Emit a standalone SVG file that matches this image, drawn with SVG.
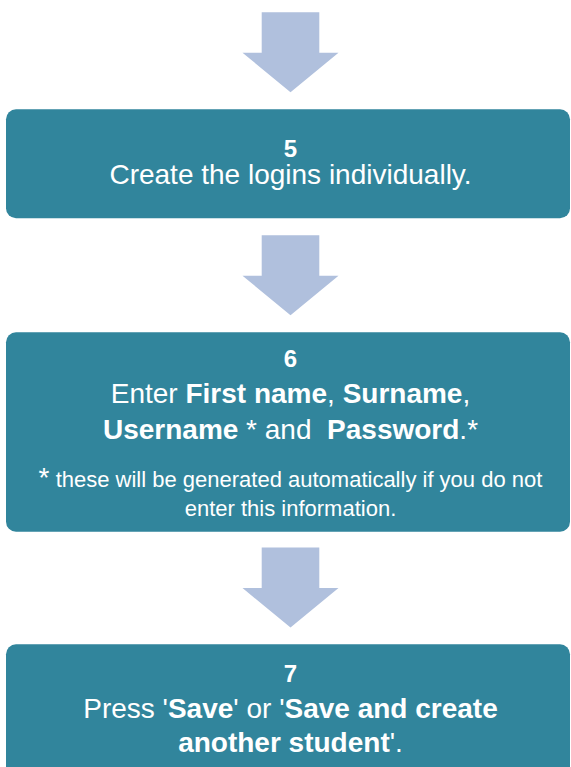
<svg xmlns="http://www.w3.org/2000/svg" width="571" height="767" viewBox="0 0 571 767">
<style>
.box{fill:#31859C;}
.arrow{fill:#B0C0DD;}
text{font-family:"Liberation Sans",Arial,sans-serif;fill:#FFFFFF;text-anchor:middle;font-size:28px;}
.b{font-weight:bold;}
.num{font-weight:bold;font-size:24px;}
.fn{font-size:22px;}
</style>
<defs>
<path id="downArrow" d="M-28.8,0 H28.8 V40.4 H48 L0,80 L-48,40.4 H-28.8 Z"/>
</defs>
<g id="connectors">
<use href="#downArrow" class="arrow" x="290.5" y="12.3"/>
<use href="#downArrow" class="arrow" x="290.5" y="235.3"/>
<use href="#downArrow" class="arrow" x="290.5" y="547.6"/>
</g>
<g id="step5">
<rect class="box" x="6" y="109.3" width="564" height="109" rx="10"/>
<text x="290.5" y="156.5" class="num">5</text>
<text x="290.5" y="184.3">Create the logins individually.</text>
</g>
<g id="step6">
<rect class="box" x="6" y="332.3" width="564" height="199.4" rx="10"/>
<text x="290.5" y="367.1" class="num">6</text>
<text x="290.5" y="402.7">Enter <tspan class="b">First name</tspan>, <tspan class="b">Surname</tspan>,</text>
<text x="290.5" y="439" xml:space="preserve"><tspan class="b">Username</tspan> * and  <tspan class="b">Password</tspan>.*</text>
<text x="290.5" y="487.3" xml:space="preserve">*<tspan class="fn"> these will be generated automatically if you do not</tspan></text>
<text x="290.5" y="515.7" class="fn">enter this information.</text>
</g>
<g id="step7">
<rect class="box" x="6" y="644.3" width="564" height="140" rx="10"/>
<text x="290.5" y="681.5" class="num">7</text>
<text x="290.5" y="718.3">Press '<tspan class="b">Save</tspan>' or '<tspan class="b">Save and create</tspan></text>
<text x="290.5" y="752.3"><tspan class="b">another student</tspan>'.</text>
</g>
</svg>
